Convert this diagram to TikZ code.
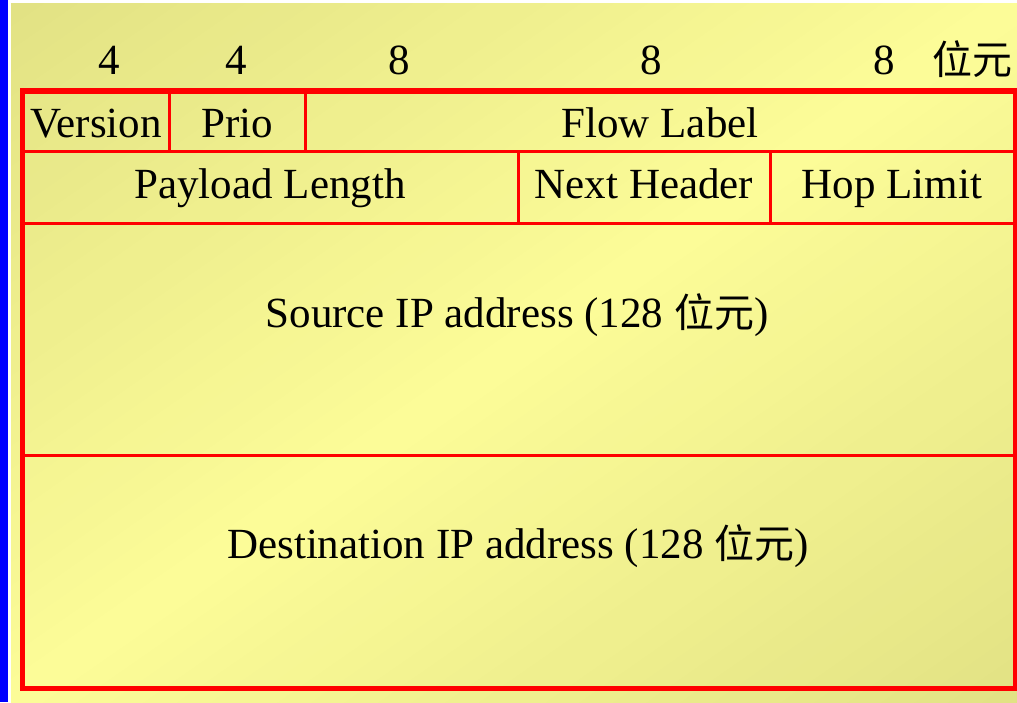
\documentclass[tikz,border=0pt]{standalone}
\usepackage{fontspec}
\setmainfont{Liberation Serif}
\newfontfamily\cjk[Scale=0.93]{Noto Sans CJK TC}
\definecolor{bgdark}{RGB}{226,226,132}
\definecolor{bglight}{RGB}{252,252,152}
\definecolor{barblue}{RGB}{0,0,255}
\definecolor{gridred}{RGB}{255,0,0}
\tikzset{
  lbl/.style={anchor=base, inner sep=0pt, font=\fontsize{43}{50}\selectfont},
  outerframe/.style={draw=gridred, line width=5.5pt},
  innerline/.style={draw=gridred, line width=3pt},
}
\begin{document}
\begin{tikzpicture}[x=1pt,y=-1pt]
\useasboundingbox (0,0) rectangle (1017,702);
\fill[white] (0,0) rectangle (1017,702);
\begin{scope}
\clip (11,3) rectangle (1017,702);
\foreach \i in {0,...,59} {
  \pgfmathsetmacro{\a}{\i/60}
  \pgfmathsetmacro{\b}{(\i+1.3)/60}
  \pgfmathsetmacro{\m}{100*(1-abs(2*(\i+0.5)/60-1))}
  \fill[bglight!\m!bgdark] ({11+2*\a*1006},3) -- ({11+2*\b*1006},3) -- (11,{3+2*\b*699}) -- (11,{3+2*\a*699}) -- cycle;
}
\end{scope}
\fill[barblue] (0,0) rectangle (7.5,702);
% grid
\draw[innerline] (22.5,151.5) -- (1015.3,151.5);
\draw[innerline] (22.5,223) -- (1015.3,223);
\draw[innerline] (22.5,455) -- (1015.3,455);
\draw[innerline] (169.5,91) -- (169.5,151.5);
\draw[innerline] (305.3,91) -- (305.3,151.5);
\draw[innerline] (518,151.5) -- (518,223);
\draw[innerline] (770.3,151.5) -- (770.3,223);
\draw[outerframe] (22.5,91) rectangle (1015.3,688.7);
% header
\node[lbl] (h1) at (109,74) {4};
\node[lbl] (h2) at (236,74) {4};
\node[lbl] (h3) at (399,74) {8};
\node[lbl] (h4) at (651,74) {8};
\node[lbl] (h5) at (884,74) {8};
\node[lbl] (unit) at (972,74) {\cjk 位元};
% row 1
\node[lbl] (ver) at (96,137) {Version};
\node[lbl] (prio) at (237,137) {Prio};
\node[lbl] (flow) at (660,137) {Flow Label};
% row 2
\node[lbl] (pay) at (270,198) {Payload Length};
\node[lbl] (next) at (644,198) {Next Header};
\node[lbl] (hop) at (892,198) {Hop Limit};
% addresses
\node[lbl] (src) at (517,327) {Source IP address (128 {\cjk 位元})};
\node[lbl] (dst) at (518,558) {Destination IP address (128 {\cjk 位元})};
\end{tikzpicture}
\end{document}
